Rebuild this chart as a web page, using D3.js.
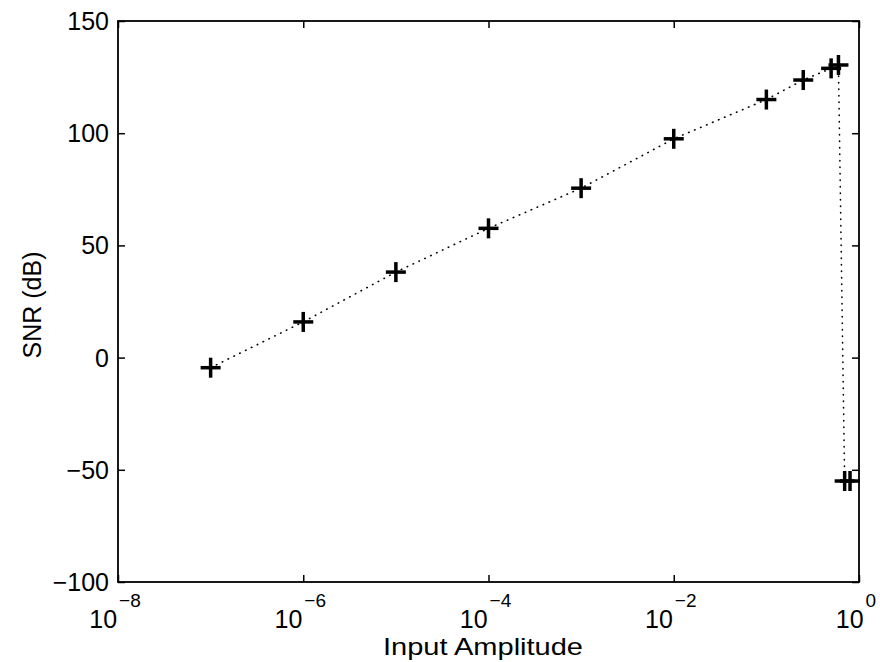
<!DOCTYPE html>
<html>
<head>
<meta charset="utf-8">
<script src="https://cdn.jsdelivr.net/npm/d3@7"></script>
<style>
  body { margin: 0; background: #fff; }
  text { font-family: "Liberation Sans", Arial, sans-serif; fill: #000; }
</style>
</head>
<body>
<div id="container"></div>
<script>
// data
const amplitude = [1e-7, 1e-6, 1e-5, 1e-4, 1e-3, 1e-2, 1e-1, 0.25, 0.5, 0.6, 0.7, 0.8];
const snr = [-4.5, 15.9, 38.1, 57.6, 75.5, 97.5, 115, 123.7, 128.9, 130.4, -55, -55];
const xTickExp = [-8, -6, -4, -2, 0];
const yTicks = [-100, -50, 0, 50, 100, 150];

const w = 880;
const h = 662;
const padL = 118, padR = 859, padT = 21, padB = 582;

const xScale = d3.scaleLog()
  .domain([1e-8, 1])
  .range([padL, padR]);

const yScale = d3.scaleLinear()
  .domain([-100, 150])
  .range([padB, padT]);

const svg = d3.select("#container")
  .append("svg")
  .attr("width", w)
  .attr("height", h);

const xTickVals = xTickExp.map(e => Math.pow(10, e));

// axes, ticks pointing inward on all four sides
svg.append("g")
  .attr("transform", "translate(0," + padB + ")")
  .call(d3.axisBottom(xScale).tickValues(xTickVals).tickSizeInner(-7).tickSizeOuter(0).tickFormat(""));
svg.append("g")
  .attr("transform", "translate(0," + padT + ")")
  .call(d3.axisTop(xScale).tickValues(xTickVals).tickSizeInner(-7).tickSizeOuter(0).tickFormat(""));
svg.append("g")
  .attr("transform", "translate(" + padL + ",0)")
  .call(d3.axisLeft(yScale).tickValues(yTicks).tickSizeInner(-7).tickSizeOuter(0).tickFormat(""));
svg.append("g")
  .attr("transform", "translate(" + padR + ",0)")
  .call(d3.axisRight(yScale).tickValues(yTicks).tickSizeInner(-7).tickSizeOuter(0).tickFormat(""));

svg.selectAll(".domain").remove();
svg.selectAll(".tick line").attr("stroke", "#000").attr("stroke-width", 1.5);

svg.append("rect")
  .attr("x", padL)
  .attr("y", padT)
  .attr("width", padR - padL)
  .attr("height", padB - padT)
  .attr("fill", "none")
  .attr("stroke", "#000")
  .attr("stroke-width", 1.8);

// y tick labels
svg.selectAll(".ylab")
  .data(yTicks)
  .enter()
  .append("text")
  .attr("class", "ylab")
  .attr("x", padL - 9)
  .attr("y", d => yScale(d) + 9)
  .attr("text-anchor", "end")
  .style("font-size", "25px")
  .text(d => d < 0 ? "\u2212" + Math.abs(d) : d);

// x tick labels, 10 with superscript exponent
const xl = svg.selectAll(".xlab")
  .data(xTickExp)
  .enter()
  .append("text")
  .attr("class", "xlab")
  .attr("x", d => xScale(Math.pow(10, d)) - 3)
  .attr("y", 628)
  .attr("text-anchor", "middle");
xl.append("tspan")
  .style("font-size", "25px")
  .text("10");
xl.append("tspan")
  .attr("dy", -21)
  .attr("dx", 2)
  .style("font-size", "19px")
  .text(d => d < 0 ? "\u2212" + Math.abs(d) : d);

// axis titles
svg.append("text")
  .attr("x", 483)
  .attr("y", 655)
  .attr("text-anchor", "middle")
  .attr("textLength", 200)
  .attr("lengthAdjust", "spacingAndGlyphs")
  .style("font-size", "24px")
  .text("Input Amplitude");

svg.append("text")
  .attr("transform", "translate(41,305) rotate(-90)")
  .attr("text-anchor", "middle")
  .style("font-size", "25px")
  .text("SNR (dB)");

const points = amplitude.map((a, i) => [a, snr[i]]);

// dotted line through the points
svg.append("path")
  .datum(points)
  .attr("fill", "none")
  .attr("stroke", "#000")
  .attr("stroke-width", 1.6)
  .attr("stroke-linecap", "round")
  .attr("stroke-dasharray", "0.5 6")
  .attr("d", d3.line().x(d => xScale(d[0])).y(d => yScale(d[1])));

// plus markers
const arm = 10;
const marks = svg.selectAll(".mark")
  .data(points)
  .enter()
  .append("g")
  .attr("class", "mark")
  .attr("transform", d => "translate(" + xScale(d[0]) + "," + yScale(d[1]) + ")");
marks.append("line")
  .attr("x1", -arm).attr("x2", arm).attr("y1", 0).attr("y2", 0)
  .attr("stroke", "#000").attr("stroke-width", 3.5);
marks.append("line")
  .attr("x1", 0).attr("x2", 0).attr("y1", -arm).attr("y2", arm)
  .attr("stroke", "#000").attr("stroke-width", 3.5);
</script>
</body>
</html>
